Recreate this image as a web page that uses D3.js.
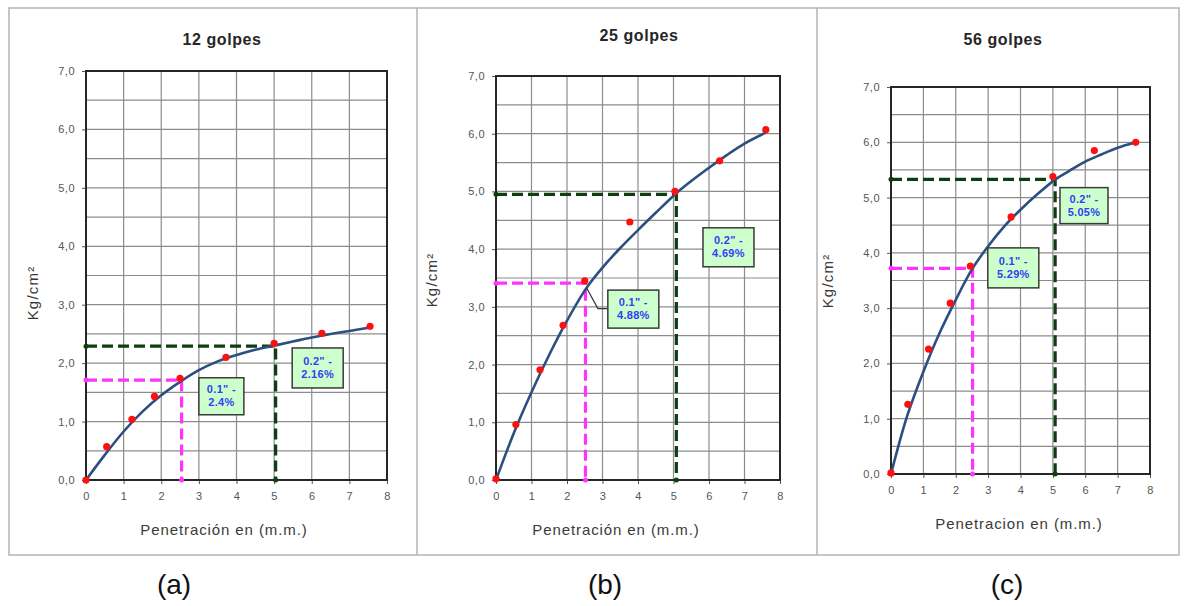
<!DOCTYPE html>
<html><head><meta charset="utf-8">
<script src="https://cdn.jsdelivr.net/npm/d3@7"></script>
<style>
html,body{margin:0;padding:0;background:#fff;}
svg{display:block;font-family:"Liberation Sans",Arial,sans-serif;}
</style></head>
<body>
<svg id="chart" width="1186" height="606"></svg>
<script>
// ---------- DATA ----------
const titles = ["12 golpes", "25 golpes", "56 golpes"];
const captions = ["(a)", "(b)", "(c)"];
const xTitles = ["Penetración en (m.m.)", "Penetración en (m.m.)", "Penetracion en (m.m.)"];
const yTitle = "Kg/cm²";
const yTicks = [0, 1, 2, 3, 4, 5, 6, 7];
const xTicks = [0, 1, 2, 3, 4, 5, 6, 7, 8];

// measured points (penetration mm, load kg/cm2)
const ptsX_a = [0, 0.55, 1.22, 1.82, 2.5, 3.72, 5.0, 6.27, 7.55];
const ptsY_a = [0, 0.57, 1.04, 1.43, 1.74, 2.10, 2.34, 2.51, 2.63];
const ptsX_b = [0, 0.56, 1.24, 1.89, 2.5, 3.77, 5.04, 6.3, 7.6];
const ptsY_b = [0.02, 0.96, 1.91, 2.68, 3.45, 4.47, 5.0, 5.53, 6.07];
const ptsX_c = [0, 0.52, 1.16, 1.83, 2.45, 3.71, 5.0, 6.28, 7.56];
const ptsY_c = [0.02, 1.26, 2.26, 3.09, 3.76, 4.65, 5.38, 5.85, 6.0];

// fitted trend curves
const curveX_a = [0, 0.5, 1, 1.5, 2, 2.5, 3, 3.5, 4, 4.5, 5, 5.5, 6, 6.5, 7, 7.55];
const curveY_a = [0, 0.43, 0.83, 1.17, 1.45, 1.68, 1.88, 2.03, 2.14, 2.23, 2.3, 2.37, 2.44, 2.5, 2.55, 2.61];
const curveX_b = [0, 0.5, 1, 1.5, 2, 2.54, 3, 3.5, 4, 4.5, 5.08, 5.5, 6, 6.5, 7, 7.6];
const curveY_b = [0, 0.81, 1.52, 2.17, 2.76, 3.32, 3.68, 4.02, 4.33, 4.63, 4.97, 5.18, 5.41, 5.63, 5.83, 6.02];
const curveX_c = [0, 0.5, 1, 1.5, 2, 2.5, 3, 3.5, 4, 4.5, 5.08, 5.5, 6, 6.5, 7, 7.56];
const curveY_c = [0, 1.05, 1.85, 2.55, 3.15, 3.7, 4.12, 4.48, 4.78, 5.05, 5.33, 5.48, 5.65, 5.78, 5.9, 6.0];

// reference (0.1" and 0.2") readings [x, y]
const ref01 = [[2.54, 1.71], [2.52, 3.41], [2.52, 3.72]];
const ref02 = [[5.04, 2.29], [5.08, 4.95], [5.07, 5.33]];

// annotation labels
const labels01 = ["2.4%", "4.88%", "5.29%"];
const labels02 = ["2.16%", "4.69%", "5.05%"];

// ---------- LAYOUT ----------
const panels = [
  {L: 86, R: 387, T: 71, B: 480, titleX: 222, titleY: 45, xtX: 224, ytX: 33, ytY: 293, capX: 174,
   box1: {x: 3.0, y: 1.75, w: 45, h: 37}, box2: {x: 5.48, y: 2.26, w: 51, h: 40}, leader: null},
  {L: 496, R: 780, T: 76, B: 480, titleX: 639, titleY: 41, xtX: 616, ytX: 432, ytY: 280, capX: 605,
   box1: {x: 3.15, y: 3.29, w: 51, h: 38}, box2: {x: 5.83, y: 4.37, w: 51, h: 39},
   leader: [[2.55, 3.33], [2.87, 2.97], [3.15, 2.97]]},
  {L: 891, R: 1150, T: 87, B: 474, titleX: 1003, titleY: 45, xtX: 1019, ytX: 828, ytY: 281, capX: 1007,
   box1: {x: 2.99, y: 4.09, w: 51, h: 40}, box2: {x: 5.22, y: 5.18, w: 48, h: 36}, leader: null}
];
const series = [
  {px: ptsX_a, py: ptsY_a, cx: curveX_a, cy: curveY_a},
  {px: ptsX_b, py: ptsY_b, cx: curveX_b, cy: curveY_b},
  {px: ptsX_c, py: ptsY_c, cx: curveX_c, cy: curveY_c}
];

const svg = d3.select("#chart");

// outer frames
svg.append("rect").attr("x", 9).attr("y", 8).attr("width", 1170).attr("height", 547)
  .attr("fill", "none").attr("stroke", "#b4b4b4").attr("stroke-width", 1.5);
[417, 817].forEach(x => svg.append("line").attr("x1", x).attr("x2", x).attr("y1", 8).attr("y2", 555)
  .attr("stroke", "#b4b4b4").attr("stroke-width", 1.5));

const fmt = d => d.toFixed(1).replace(".", ",");

panels.forEach((p, i) => {
  const s = series[i];
  const x = d3.scaleLinear().domain([0, 8]).range([p.L, p.R]);
  const y = d3.scaleLinear().domain([0, 7]).range([p.B, p.T]);
  const g = svg.append("g");

  // grid
  const hLines = d3.range(0.5, 7, 0.5);
  g.selectAll(".hg").data(hLines).enter().append("line")
    .attr("x1", p.L).attr("x2", p.R).attr("y1", d => y(d)).attr("y2", d => y(d))
    .attr("stroke", "#8c8c8c").attr("stroke-width", 1.2);
  g.selectAll(".vg").data(d3.range(1, 8)).enter().append("line")
    .attr("y1", p.T).attr("y2", p.B).attr("x1", d => x(d)).attr("x2", d => x(d))
    .attr("stroke", "#8c8c8c").attr("stroke-width", 1.2);

  // axes
  const ya = g.append("g").attr("transform", `translate(${p.L},0)`)
    .call(d3.axisLeft(y).tickValues(yTicks).tickFormat(fmt).tickSize(4).tickPadding(7));
  const xa = g.append("g").attr("transform", `translate(0,${p.B})`)
    .call(d3.axisBottom(x).tickValues(xTicks).tickFormat(d3.format("d")).tickSize(4).tickPadding(8));
  [ya, xa].forEach(a => {
    a.select(".domain").remove();
    a.selectAll("line").attr("stroke", "#555");
    a.selectAll("text").attr("fill", "#555").style("font-size", "11px")
      .style("letter-spacing", "0.5px").style("font-family", "'Liberation Sans',Arial,sans-serif");
  });

  // plot border
  g.append("rect").attr("x", p.L).attr("y", p.T).attr("width", p.R - p.L).attr("height", p.B - p.T)
    .attr("fill", "none").attr("stroke", "#262626").attr("stroke-width", 2);

  // reference dashed lines
  const drawRef = (pt, color) => {
    const path = d3.line().x(d => x(d[0])).y(d => y(d[1]));
    g.append("path").attr("d", path([[0, pt[1]], [pt[0], pt[1]], [pt[0], 0]]))
      .attr("fill", "none").attr("stroke", color).attr("stroke-width", 3.2)
      .attr("stroke-dasharray", "11,5");
    [[0, pt[1]], [pt[0], 0]].forEach(e => g.append("circle").attr("cx", x(e[0])).attr("cy", y(e[1]))
      .attr("r", 2.5).attr("fill", color));
  };
  drawRef(ref01[i], "#ff33ff");
  drawRef(ref02[i], "#0f3d0f");

  // trend curve
  const cdata = s.cx.map((v, k) => [v, s.cy[k]]);
  g.append("path").attr("d", d3.line().x(d => x(d[0])).y(d => y(d[1])).curve(d3.curveCatmullRom.alpha(0.5))(cdata))
    .attr("fill", "none").attr("stroke", "#2b4f80").attr("stroke-width", 2.6);

  // points
  const pdata = s.px.map((v, k) => [v, s.py[k]]);
  g.selectAll(".pt").data(pdata).enter().append("circle")
    .attr("cx", d => x(d[0])).attr("cy", d => y(d[1])).attr("r", 3.6).attr("fill", "#ff1010");

  // leader
  if (p.leader) {
    g.append("path").attr("d", d3.line().x(d => x(d[0])).y(d => y(d[1]))(p.leader))
      .attr("fill", "none").attr("stroke", "#333").attr("stroke-width", 1.2);
  }

  // annotation boxes
  const drawBox = (b, l1, l2) => {
    const bx = x(b.x), by = y(b.y);
    g.append("rect").attr("x", bx).attr("y", by).attr("width", b.w).attr("height", b.h)
      .attr("fill", "#ccffcc").attr("stroke", "#3a3a3a").attr("stroke-width", 1.5);
    const t = g.append("text").attr("x", bx + b.w / 2).attr("y", by + b.h / 2 - 3)
      .attr("text-anchor", "middle").attr("fill", "#2f3ff5").style("font-size", "11px")
      .style("font-weight", "bold").style("letter-spacing", "0.3px");
    t.append("tspan").attr("x", bx + b.w / 2).text(l1);
    t.append("tspan").attr("x", bx + b.w / 2).attr("dy", 13).text(l2);
  };
  drawBox(p.box1, "0.1\" -", labels01[i]);
  drawBox(p.box2, "0.2\" -", labels02[i]);

  // titles
  g.append("text").attr("x", p.titleX).attr("y", p.titleY).attr("text-anchor", "middle")
    .style("font-size", "16px").style("font-weight", "bold").style("letter-spacing", "0.6px")
    .attr("fill", "#262626").text(titles[i]);
  g.append("text").attr("x", p.xtX).attr("y", p.B + 55).attr("text-anchor", "middle")
    .style("font-size", "15px").style("letter-spacing", "0.9px").attr("fill", "#3a3a3a").text(xTitles[i]);
  g.append("text").attr("transform", `translate(${p.ytX + 5},${p.ytY}) rotate(-90)`)
    .attr("text-anchor", "middle").style("font-size", "15px").style("letter-spacing", "1.2px")
    .attr("fill", "#3a3a3a").text(yTitle);
  g.append("text").attr("x", p.capX).attr("y", 594).attr("text-anchor", "middle")
    .style("font-size", "28px").attr("fill", "#111").text(captions[i]);
});
</script>
</body></html>
